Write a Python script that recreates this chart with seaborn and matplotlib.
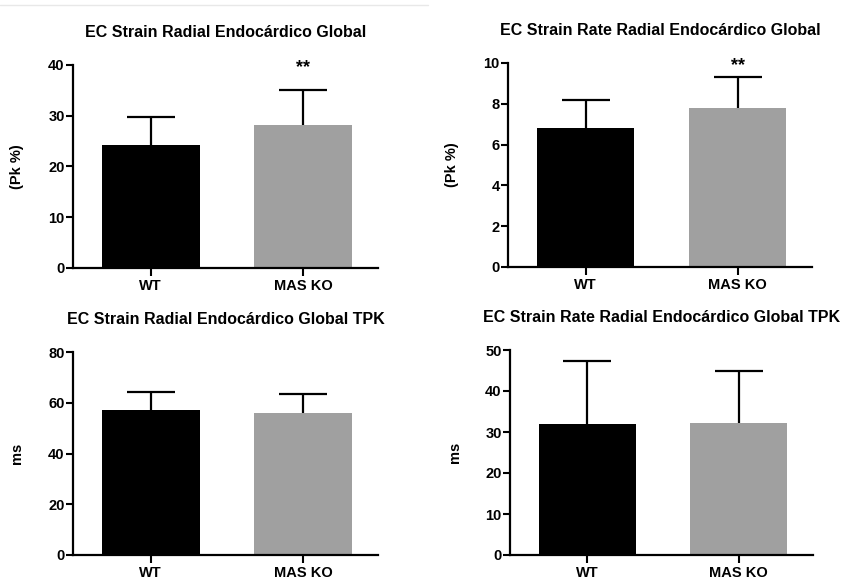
import pandas as pd
import seaborn as sns
import matplotlib.pyplot as plt
from matplotlib.lines import Line2D

# Datos
grupos = ['WT', 'MAS KO']
colores = ['#000000', '#a0a0a0']

strain_media = [24.2, 28.2]
strain_error = [5.6, 6.9]

strain_rate_media = [6.81, 7.8]
strain_rate_error = [1.38, 1.51]

strain_tpk_media = [57.1, 56.0]
strain_tpk_error = [7.1, 7.4]

strain_rate_tpk_media = [32.0, 32.2]
strain_rate_tpk_error = [15.3, 12.7]

titulos = ['EC Strain Radial Endocárdico Global',
           'EC Strain Rate Radial Endocárdico Global',
           'EC Strain Radial Endocárdico Global TPK',
           'EC Strain Rate Radial Endocárdico Global TPK']
etiquetas_y = ['(Pk %)', '(Pk %)', 'ms', 'ms']
limites_y = [40, 10, 80, 50]
pasos_y = [10, 2, 20, 10]
significancia = ['**', '**', '', '']

sns.set_style('ticks')
plt.rcParams['font.family'] = ['Liberation Sans', 'DejaVu Sans']
plt.rcParams['font.weight'] = 'bold'
for clave in ['text.color', 'axes.labelcolor', 'xtick.color', 'ytick.color', 'axes.edgecolor']:
    plt.rcParams[clave] = 'black'

fig = plt.figure(figsize=(8.43, 5.79), dpi=100)

# posiciones de cada panel en pixeles (izq, der, abajo, arriba)
paneles = [(73, 378, 268, 65), (508, 812, 267, 63), (73, 378, 555, 352), (510, 813, 555, 350)]
medias = [strain_media, strain_rate_media, strain_tpk_media, strain_rate_tpk_media]
errores = [strain_error, strain_rate_error, strain_tpk_error, strain_rate_tpk_error]

W, H = 843, 579
for i, (izq, der, abajo, arriba) in enumerate(paneles):
    ax = fig.add_axes([izq / W, 1 - abajo / H, (der - izq) / W, (abajo - arriba) / H])
    df = pd.DataFrame({'Grupo': grupos, 'Valor': medias[i]})
    sns.barplot(data=df, x='Grupo', y='Valor', hue='Grupo', palette=colores,
                width=0.64, errorbar=None, legend=False, ax=ax, linewidth=0)
    eb = ax.errorbar([0, 1], medias[i], yerr=[[0, 0], errores[i]], fmt='none',
                     ecolor='black', elinewidth=1.6, capsize=17.5, capthick=1.6, zorder=1)
    # solo el cap superior, como en GraphPad
    eb.lines[1][0].set_visible(False)
    ax.set_xlim(-0.51, 1.49)
    ax.set_ylim(0, limites_y[i])
    ax.set_yticks(range(0, limites_y[i] + 1, pasos_y[i]))
    ax.set_xlabel('')
    ax.set_ylabel(etiquetas_y[i], fontsize=10.5, fontweight='bold')
    ax.yaxis.set_label_coords(-0.16, 0.5)
    ax.set_title(titulos[i], fontsize=11.5, fontweight='bold', pad=20)
    ax.tick_params(axis='both', labelsize=10.5, width=1.5, length=5, pad=1)
    ax.tick_params(axis='x', length=6, pad=2)
    for s in ['left', 'bottom']:
        ax.spines[s].set_linewidth(1.6)
    sns.despine(ax=ax)
    if significancia[i]:
        ax.text(1, limites_y[i] * 0.985, significancia[i], ha='center', va='center',
                fontsize=13, fontweight='bold', clip_on=False)

# línea gris tenue de la captura original
fig.add_artist(Line2D([0, 428 / W], [1 - 5 / H, 1 - 5 / H], color='#e8e8e8', linewidth=1))

fig.savefig('out.png', dpi=100)
